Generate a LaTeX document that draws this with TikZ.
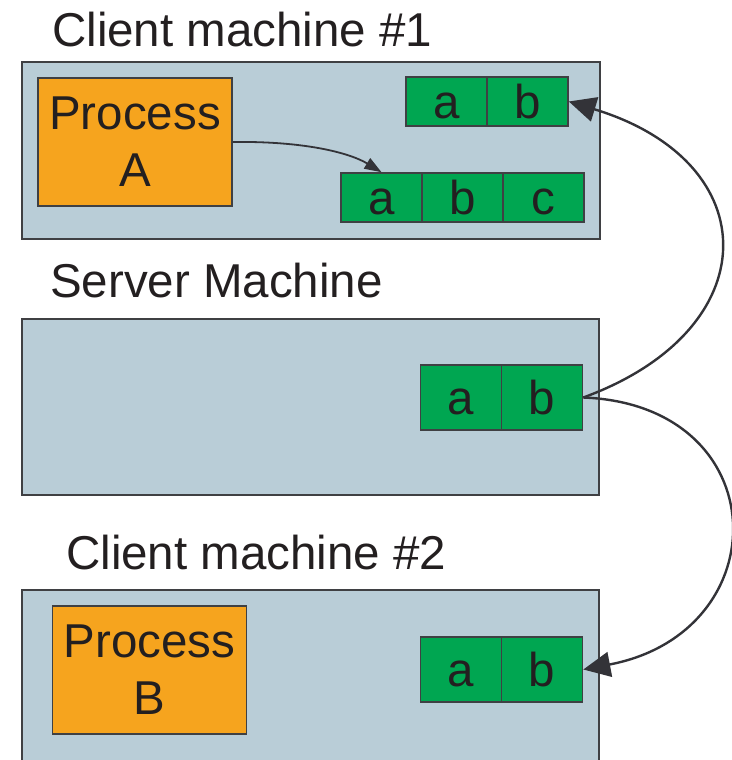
\documentclass[tikz,border=0pt]{standalone}
\usepackage{fontspec}
\setmainfont{Liberation Sans}
\usetikzlibrary{arrows.meta}
\definecolor{machfill}{HTML}{B9CDD7}
\definecolor{edgegray}{HTML}{3F4043}
\definecolor{procorange}{HTML}{F6A41E}
\definecolor{cellgreen}{HTML}{00A651}
\definecolor{inkdark}{HTML}{231F20}
\definecolor{arrowdark}{HTML}{333338}
\tikzset{
  bigfont/.style={font=\fontsize{47.5}{57}\selectfont, text=inkdark},
  machine/.style={draw=edgegray, fill=machfill, line width=1.8pt, inner sep=0pt, anchor=north west},
  procbox/.style={draw=edgegray, fill=procorange, line width=1.8pt, inner sep=0pt, minimum width=194pt, minimum height=128pt, align=center, bigfont},
  cellsm/.style={draw=edgegray, fill=cellgreen, line width=1.6pt, inner sep=0pt, minimum width=81pt, minimum height=49pt, text height=34pt, text depth=0pt, bigfont},
  celllg/.style={draw=edgegray, fill=cellgreen, line width=1.6pt, inner sep=0pt, minimum width=81pt, minimum height=65pt, text height=34pt, text depth=0pt, bigfont},
  label/.style={bigfont, inner sep=0pt, anchor=base west},
  conn/.style={draw=arrowdark, line width=2.4pt, -{Triangle[length=27pt,width=25pt]}},
  connsm/.style={draw=arrowdark, line width=1.8pt, -{Triangle[length=17pt,width=12pt]}}
}
\begin{document}
\begin{tikzpicture}[x=1pt,y=-1pt]
\useasboundingbox (0,0) rectangle (731,760);
% labels
\node[label] (lab1) at (52,47) {Client machine \#1};
\node[label] (lab2) at (50,297) {Server Machine};
\node[label] (lab3) at (66,569) {Client machine \#2};
% machine boxes
\node[machine, minimum width=578pt, minimum height=177pt] (cm1) at (21,61) {};
\node[machine, minimum width=577pt, minimum height=176pt] (srv) at (21,318) {};
\node[machine, minimum width=577pt, minimum height=185pt] (cm2) at (21,589) {};
% processes
\node[procbox] (pA) at (135,142) {Process\\A};
\node[procbox] (pB) at (149.5,670) {Process\\B};
% client 1 cells
\node[cellsm] (c1a) at (446.5,101.5) {a};
\node[cellsm] (c1b) at (527.5,101.5) {b};
\node[cellsm] (xa) at (381.5,197.5) {a};
\node[cellsm] (xb) at (462.5,197.5) {b};
\node[cellsm] (xc) at (543.5,197.5) {c};
% server cells
\node[celllg] (sa) at (461,397.5) {a};
\node[celllg] (sb) at (542,397.5) {b};
% client 2 cells
\node[celllg] (c2a) at (461,669.5) {a};
\node[celllg] (c2b) at (542,669.5) {b};
% connectors
\draw[connsm] (pA.east) .. controls (305,141) and (350,153) .. (xa.north);
\draw[conn] (sb.east) .. controls (768,330) and (768,162) .. (c1b.east);
\draw[conn] (sb.east) .. controls (777,405) and (780,632) .. (c2b.east);
\end{tikzpicture}
\end{document}
